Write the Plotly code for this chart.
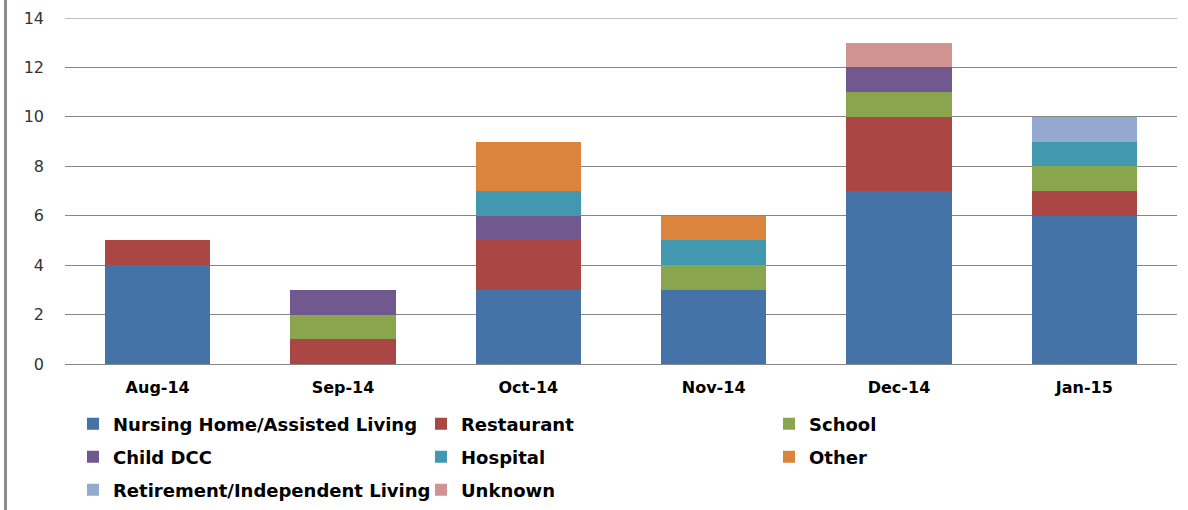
import plotly.graph_objects as go

months = ["Aug-14", "Sep-14", "Oct-14", "Nov-14", "Dec-14", "Jan-15"]
nursing = [4, 0, 3, 3, 7, 6]
restaurant = [1, 1, 2, 0, 3, 1]
school = [0, 1, 0, 1, 1, 1]
child_dcc = [0, 1, 1, 0, 1, 0]
hospital = [0, 0, 1, 1, 0, 1]
other = [0, 0, 2, 1, 0, 0]
retirement = [0, 0, 0, 0, 0, 1]
unknown = [0, 0, 0, 0, 1, 0]

series = [
    ("Nursing Home/Assisted Living", nursing, "#4572A7", "legend"),
    ("Restaurant", restaurant, "#AA4643", "legend"),
    ("School", school, "#89A54E", "legend"),
    ("Child DCC", child_dcc, "#71588F", "legend2"),
    ("Hospital", hospital, "#4198AF", "legend2"),
    ("Other", other, "#DB843D", "legend2"),
    ("Retirement/Independent Living", retirement, "#93A9CF", "legend3"),
    ("Unknown", unknown, "#D19392", "legend3"),
]

fig = go.Figure()
for name, vals, color, lg in series:
    fig.add_trace(go.Bar(name=name, x=months, y=vals, legend=lg,
                         marker=dict(color=color, line=dict(width=0))))

W, H = 1188, 510
L, R, T, B = 65, 11, 18, 0
pw, ph = W - L - R, H - T - B
y_bottom_px = 364
y_max = 14


def py(p):
    return (H - B - p) / ph


def px(p):
    return (p - L) / pw


legfont = dict(size=18, family="DejaVu Sans", color="#000000", weight="bold")


def leg(row_y):
    return dict(orientation="h", x=px(73), xanchor="left", y=py(row_y), yanchor="middle",
                entrywidth=303, entrywidthmode="pixels", traceorder="normal",
                font=legfont, bgcolor="rgba(0,0,0,0)")


fig.update_layout(
    width=W, height=H,
    barmode="stack",
    bargap=0.43,
    margin=dict(l=L, r=R, t=T, b=B, autoexpand=False),
    plot_bgcolor="white", paper_bgcolor="white",
    font=dict(family="DejaVu Sans", color="#000000"),
    xaxis=dict(showgrid=False, showline=False, ticks="", automargin=False,
               ticklabelstandoff=12,
               tickfont=dict(size=16, family="DejaVu Sans", color="#000000", weight="bold")),
    yaxis=dict(range=[0, y_max], dtick=2, showgrid=True, gridcolor="#868686", gridwidth=1,
               domain=[py(y_bottom_px), 1], automargin=False,
               zeroline=True, zerolinecolor="#868686", zerolinewidth=1,
               ticks="", ticklabelstandoff=20,
               tickfont=dict(size=16, family="DejaVu Sans", color="#333333")),
    legend=leg(424),
    legend2=leg(457),
    legend3=leg(490),
    shapes=[
        dict(type="line", xref="paper", yref="paper",
             x0=px(5.5), x1=px(5.5), y0=py(0), y1=py(H),
             line=dict(color="#8C8C8C", width=3)),
        dict(type="line", xref="paper", yref="y", x0=0, x1=1, y0=y_max, y1=y_max,
             line=dict(color="#868686", width=1), layer="below"),
    ],
)

fig.write_html("out.html", config={"displayModeBar": False},
               post_script="document.body.style.margin='0';document.body.style.overflow='hidden';")
